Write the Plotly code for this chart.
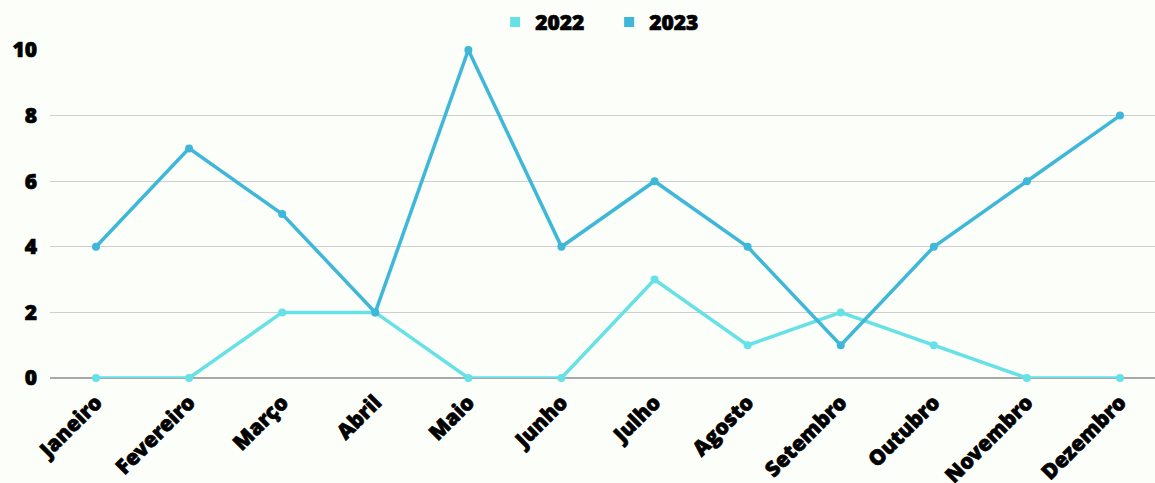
import plotly.graph_objects as go

months = ["Janeiro", "Fevereiro", "Março", "Abril", "Maio", "Junho", "Julho",
          "Agosto", "Setembro", "Outubro", "Novembro", "Dezembro"]
series_2022 = [0, 0, 2, 2, 0, 0, 3, 1, 2, 1, 0, 0]
series_2023 = [4, 7, 5, 2, 10, 4, 6, 4, 1, 4, 6, 8]
y_ticks = [0, 2, 4, 6, 8, 10]

c22 = "#66E1E6"
c23 = "#3EB7D8"
bg = "#FBFEF9"
font = dict(family="Open Sans ExtraBold, Open Sans", size=21, color="#000000", weight=800)

fig = go.Figure()
for name, vals, col in [("2022", series_2022, c22), ("2023", series_2023, c23)]:
    fig.add_trace(go.Scatter(x=months, y=vals, mode="lines+markers", name=name,
                             line=dict(color=col, width=3.5),
                             marker=dict(color=col, size=8),
                             cliponaxis=False, showlegend=False))
    fig.add_trace(go.Scatter(x=[None], y=[None], mode="markers", name=name,
                             marker=dict(color=col, size=10, symbol="square"),
                             showlegend=True))

fig.update_layout(
    width=1155, height=483,
    paper_bgcolor=bg, plot_bgcolor=bg,
    margin=dict(l=50, r=0, t=50, b=105),
    font=font,
    legend=dict(orientation="h", x=0.506, xanchor="center", y=1.022, yanchor="bottom",
                font=font, itemwidth=30, entrywidth=69, traceorder="normal",
                bgcolor="rgba(0,0,0,0)"),
    xaxis=dict(type="category", range=[-0.494, 11.376], tickangle=-45,
               showgrid=False, showline=False, ticks="", tickfont=font,
               ticklabelstandoff=7, automargin=False),
    yaxis=dict(range=[0, 10], tickvals=y_ticks, showgrid=True, gridcolor="#CFCFCF",
               gridwidth=1, zeroline=True, zerolinecolor="#A8A8A8", zerolinewidth=1.5,
               ticks="", ticklabelstandoff=12, tickfont=font, automargin=False),
)
post = (
    "document.body.style.margin='0';"
    "document.body.style.background='%s';"
    "var s=document.createElement('style');"
    "s.textContent='.xtick text,.ytick text,.legendtext{stroke:#000;stroke-width:0.7px;}';"
    "document.head.appendChild(s);" % bg
)
fig.write_html("out.html", post_script=post, config={"displayModeBar": False})
